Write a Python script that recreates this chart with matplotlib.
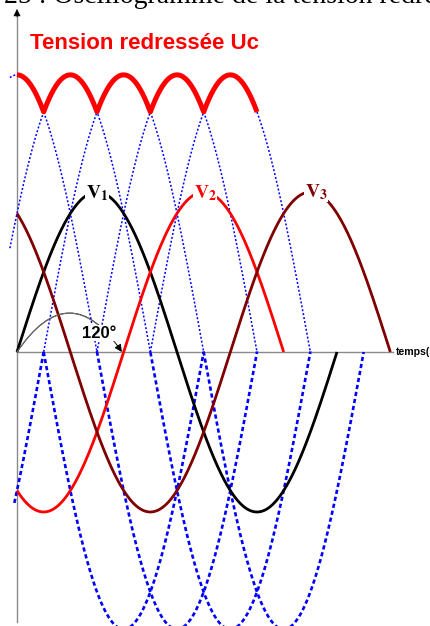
import numpy as np
import matplotlib
matplotlib.use("Agg")
import matplotlib.pyplot as plt
from matplotlib.patches import FancyArrowPatch

plt.rcParams['mathtext.fontset'] = 'stix'

# ---------------- data ----------------
phase_names = ['1', '2', '3']
phase_shifts_deg = [0, 120, 240]          # V1, V2, V3
phase_starts_deg = [0, 0, 0]
phase_ends_deg = [360, 300, 420]
V_amp = 1.0                                # simple voltage amplitude
U_amp = np.sqrt(3) * V_amp                 # line voltage amplitude
line_phases_deg = [0, 60, 120, 180, 240, 300]
line_starts_deg = [-8, -8, -3, 90, 150, 30]
line_ends_deg = [270, 330, 390, 270, 330, 210]
uc_start_deg, uc_end_deg = 0, 270
angle_label = '120°'
angle_end_deg = 118

# ---------------- style / layout ----------------
phase_colors = ['black', '#FF0000', '#800000']
label_xy = [(90, 0.99), (211.5, 0.99), (336.5, 1.0)]
W, H = 431, 626
x0_px, y0_px = 17, 352
px_per_deg = 320 / 360
px_per_unit = 160


def deg_from_px(px):
    return (px - x0_px) / px_per_deg


def val_from_py(py):
    return (y0_px - py) / px_per_unit


fig = plt.figure(figsize=(W / 100, H / 100), dpi=100)
ax = fig.add_axes([0, 0, 1, 1])
ax.set_xlim(deg_from_px(0), deg_from_px(W))
ax.set_ylim(val_from_py(H), val_from_py(0))
ax.axis('off')

# axes lines
ax.plot([0, 0], [val_from_py(622), val_from_py(16)], color='#8a8a8a', lw=1.0, zorder=1)
ax.annotate('', xy=(0, val_from_py(9)), xytext=(0, val_from_py(17)),
            arrowprops=dict(arrowstyle='-|>', color='black', lw=0.5,
                            mutation_scale=11, shrinkA=0, shrinkB=0), zorder=1)
ax.plot([0, deg_from_px(393)], [0, 0], color='#8a8a8a', lw=1.0, zorder=1)
ax.text(deg_from_px(396), 0, 'temps(s)', fontsize=7.6, fontweight='bold',
        family='Liberation Sans', ha='left', va='center', color='black')

# line voltages (blue): dotted when positive, dashed when negative
for ph, a, b in zip(line_phases_deg, line_starts_deg, line_ends_deg):
    t = np.linspace(a, b, 1500)
    u = U_amp * np.cos(np.radians(t - ph))
    pos = np.where(u >= -0.004, u, np.nan)
    neg = np.where(u <= 0.004, u, np.nan)
    ax.plot(t, pos, color='#0000FF', lw=1.1, linestyle=(0, (1.3, 1.3)), zorder=2)
    ax.plot(t, neg, color='#0000FF', lw=1.9, linestyle=(0, (1.6, 1.1)), zorder=2)

# simple voltages
for sh, a, b, c in zip(phase_shifts_deg, phase_starts_deg, phase_ends_deg, phase_colors):
    t = np.linspace(a, b, 1000)
    v = V_amp * np.sin(np.radians(t - sh))
    ax.plot(t, v, color=c, lw=2.0, zorder=3, solid_capstyle='butt')

# rectified voltage Uc
t = np.linspace(uc_start_deg, uc_end_deg, 1500)
uc = np.max([U_amp * np.cos(np.radians(t - ph)) for ph in line_phases_deg], axis=0)
ax.plot(t, uc, color='#FF0000', lw=3.6, zorder=4, solid_capstyle='butt')

# labels V1 V2 V3
for name, (lx, ly), c in zip(phase_names, label_xy, phase_colors):
    ax.text(lx, ly, r'$\mathbf{V}_{\mathbf{%s}}$' % name, color=c, fontsize=14,
            ha='center', va='center', zorder=6,
            bbox=dict(facecolor='white', edgecolor='none', pad=0.3))

# 120 degree arc
arc_black = FancyArrowPatch((0, 0), (angle_end_deg, 0), connectionstyle='arc3,rad=-0.74',
                            arrowstyle='-|>', mutation_scale=11, color='black', lw=0.7,
                            shrinkA=0, shrinkB=0, zorder=5)
ax.add_patch(arc_black)
arc_grey = FancyArrowPatch((0, 0), (angle_end_deg, 0), connectionstyle='arc3,rad=-0.74',
                           arrowstyle='-', color='#707070', lw=0.8,
                           shrinkA=0, shrinkB=8, zorder=5)
ax.add_patch(arc_grey)
ax.text(deg_from_px(99), val_from_py(333), angle_label, fontsize=12, fontweight='bold',
        family='Liberation Sans', ha='center', va='center', zorder=6,
        bbox=dict(facecolor='white', edgecolor='none', pad=0.5))

# titles
fig.text(30 / W, 1 - 49 / H, 'Tension redressée Uc', color='#FF0000', fontsize=16,
         fontweight='bold', family='Liberation Sans', ha='left', va='baseline')
fig.text(4 / W, 1 - 3.0 / H, '25 : Oscillogramme de la tension redressée', color='black',
         fontsize=20, family='Liberation Serif', ha='left', va='baseline')

fig.savefig('out.png', dpi=100)
